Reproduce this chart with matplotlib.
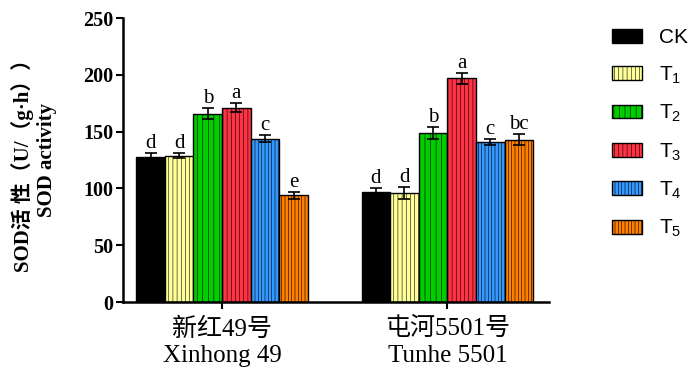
import matplotlib.pyplot as plt
import numpy as np

groups = ["新红49号\nXinhong 49", "屯河5501号\nTunhe 5501"]
treatments = ["CK", "T$_1$", "T$_2$", "T$_3$", "T$_4$", "T$_5$"]
values = [
    [128, 129, 166, 171, 144, 94],   # Xinhong 49
    [97, 96, 149, 197, 141, 143],    # Tunhe 5501
]
errors = [
    [3, 2, 5, 4, 3, 3],
    [3, 5, 5, 5, 3, 5],
]
letters = [
    ["d", "d", "b", "a", "c", "e"],
    ["d", "d", "b", "a", "c", "bc"],
]
colors = ["#000000", "#FFFF99", "#00CC00", "#FF3344", "#3399FF", "#FF8000"]
hatches = ["", "||||", "|||", "||||", "|||||", "|||||"]

plt.rcParams["hatch.linewidth"] = 0.4
plt.rcParams["hatch.color"] = "#00000080"
plt.rcParams["mathtext.default"] = "regular"

fig = plt.figure(figsize=(7, 3.78), dpi=100)
ax = fig.add_axes([0.176, 0.201, 0.608, 0.751])

width = 0.127
x = np.arange(len(groups))
serif = ["Liberation Serif", "Noto Sans CJK SC"]

for i, (name, c, h) in enumerate(zip(treatments, colors, hatches)):
    pos = x + (i - 2.5) * width
    vals = [v[i] for v in values]
    errs = [e[i] for e in errors]
    ax.bar(pos, vals, width, color=c, edgecolor="black", linewidth=1.0,
           hatch=h, label=name, zorder=2)
    ax.errorbar(pos, vals, yerr=errs, fmt="none", ecolor="black",
                elinewidth=1.2, capsize=4.5, capthick=1.2, zorder=3)
    for p, v, e, g in zip(pos, vals, errs, range(len(groups))):
        ax.text(p, v + e, letters[g][i], ha="center", va="bottom",
                fontsize=15, family="Liberation Serif")

ax.set_xlim(-0.439, 1.45)
ax.set_ylim(0, 250)
ax.set_yticks([0, 50, 100, 150, 200, 250])
ax.set_xticks(x)
ax.set_xticklabels(groups, family=serif, fontsize=18, linespacing=1.25)
for lab in ax.get_yticklabels():
    lab.set_family("Liberation Serif")
    lab.set_fontweight("bold")
    lab.set_fontsize(14.5)

ax.spines["top"].set_visible(False)
ax.spines["right"].set_visible(False)
ax.spines["left"].set_linewidth(1.8)
ax.spines["bottom"].set_linewidth(1.8)
ax.tick_params(axis="both", width=1.5, length=5, direction="out")
ax.tick_params(axis="y", pad=2)
ax.tick_params(axis="x", pad=6)

ax.set_ylabel("SOD活 性（U/（g·h））\nSOD activity", family=serif,
              fontweight="bold", fontsize=15, linespacing=1.2)
ax.yaxis.set_label_coords(-0.155, 0.5)

leg = ax.legend(loc="upper left", bbox_to_anchor=(1.105, 1.03), frameon=False,
                prop={"family": "Liberation Sans", "size": 15},
                handlelength=1.45, handleheight=0.65, labelspacing=0.82,
                handletextpad=0.8)

fig.savefig("out.png", dpi=100)
